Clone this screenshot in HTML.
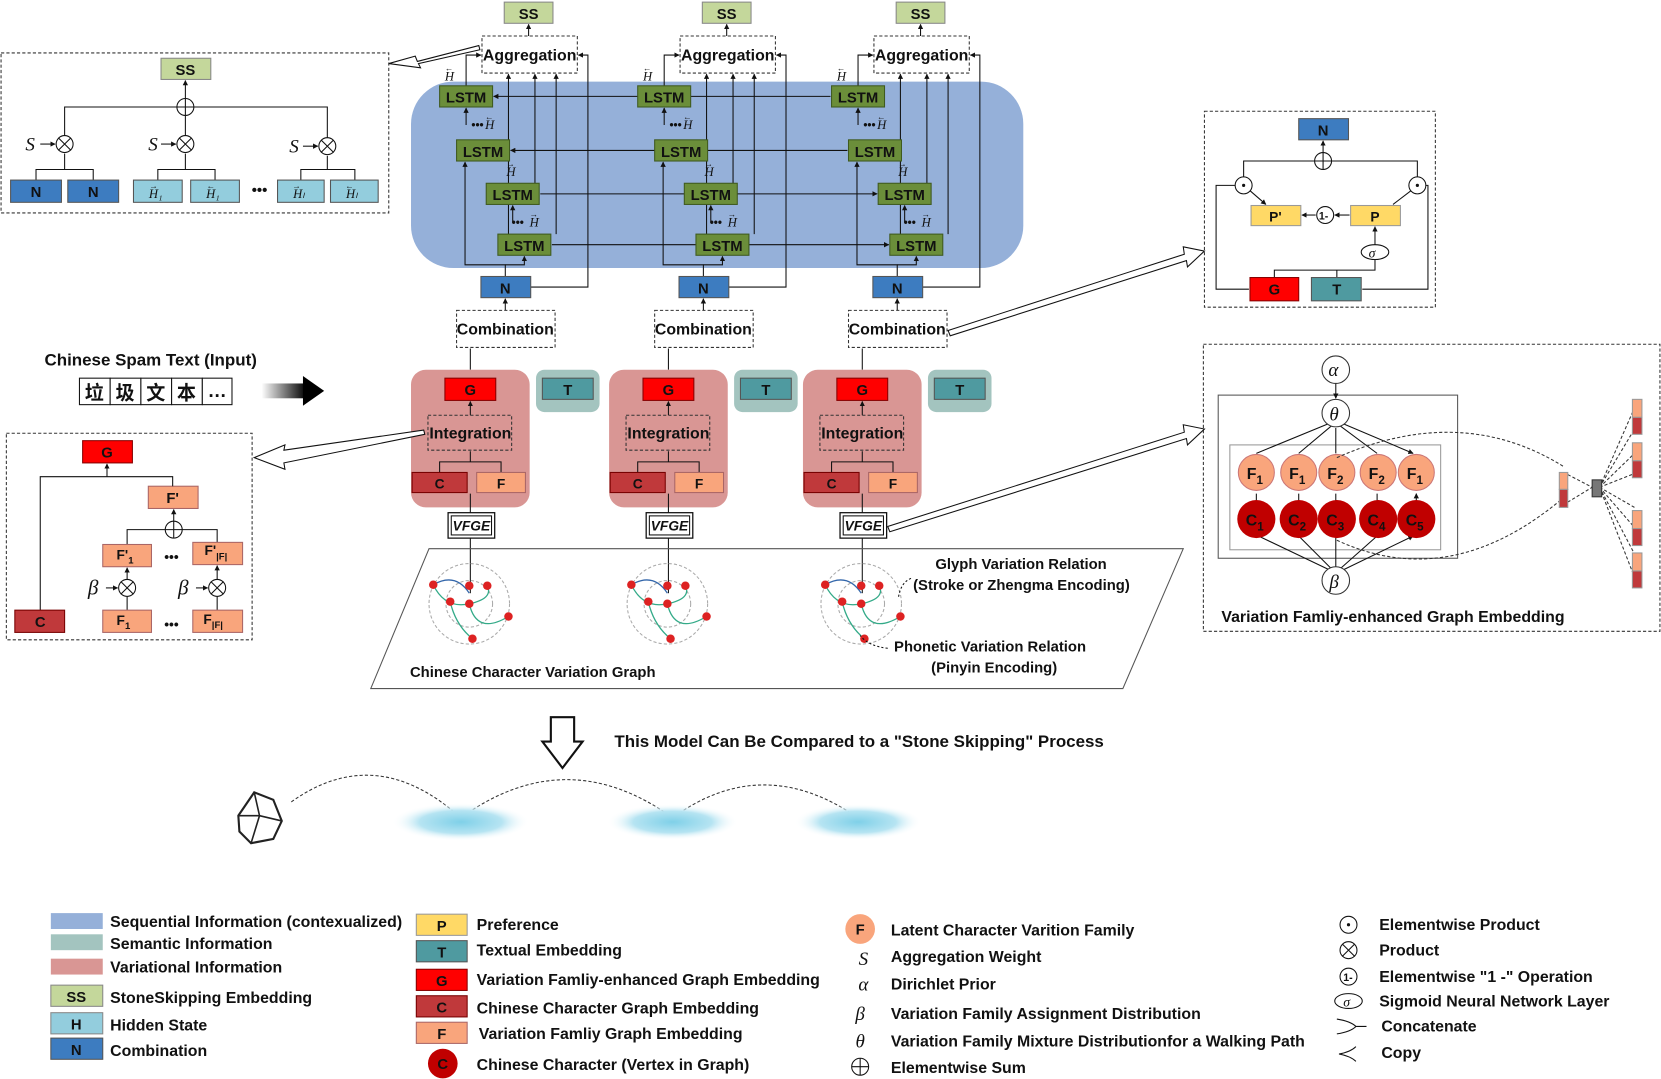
<!DOCTYPE html>
<html><head><meta charset="utf-8"><style>
html,body{margin:0;padding:0;background:#fff;width:1661px;height:1079px;overflow:hidden}
svg{display:block}
text{font-family:"Liberation Sans","Noto Sans CJK SC",sans-serif;font-weight:bold;fill:#111}
.s{font-family:"Liberation Serif",serif;font-style:italic;font-weight:normal}
</style></head><body>
<svg width="1661" height="1079" viewBox="0 0 1568 1018.6" preserveAspectRatio="none" xmlns="http://www.w3.org/2000/svg">
<defs>
<marker id="a" viewBox="0 0 10 10" refX="9" refY="5" markerWidth="5" markerHeight="5" orient="auto"><path d="M0,0L10,5L0,10z" fill="#111"/></marker>
<linearGradient id="gr" x1="0" x2="1"><stop offset="0" stop-color="#fff"/><stop offset="1" stop-color="#000"/></linearGradient>
<radialGradient id="rip"><stop offset="0" stop-color="#7fd0e8"/><stop offset="0.6" stop-color="#b6e4f2"/><stop offset="1" stop-color="#fff" stop-opacity="0"/></radialGradient>
<g id="col">
 <rect x="476" y="2" width="46" height="20" fill="#c4d79b" stroke="#888"/>
 <text x="499" y="18" font-size="14" text-anchor="middle">SS</text>
 <line x1="499" y1="34" x2="499" y2="23" stroke="#111" marker-end="url(#a)"/>
 <rect x="455" y="34" width="90" height="35" fill="#fff" stroke="#333" stroke-dasharray="3,2"/>
 <text x="500" y="57" font-size="15" text-anchor="middle">Aggregation</text>
 <path d="M440,81V52H454" fill="none" stroke="#111" marker-end="url(#a)"/>
 <text x="420" y="76" class="s" font-size="12">H</text><text x="420" y="67" font-size="8" font-weight="normal">←</text>
 <line x1="480" y1="241" x2="480" y2="70" stroke="#111" marker-end="url(#a)"/>
 <line x1="525" y1="221" x2="525" y2="70" stroke="#111" marker-end="url(#a)"/>
 <line x1="505" y1="173" x2="505" y2="70" stroke="#111" marker-end="url(#a)"/>
 <path d="M501,271H555V52H546" fill="none" stroke="#111" marker-end="url(#a)"/>
 <g fill="#6b8e3a" stroke="#3f5a1f">
 <rect x="415" y="81" width="50" height="20"/><rect x="431" y="132" width="50" height="20"/>
 <rect x="459" y="173" width="50" height="20"/><rect x="470" y="221" width="50" height="20"/></g>
 <g font-size="14" text-anchor="middle"><text x="440" y="97">LSTM</text><text x="456" y="148">LSTM</text><text x="484" y="189">LSTM</text><text x="495" y="237">LSTM</text></g>
 <line x1="440" y1="118" x2="440" y2="102" stroke="#111" marker-end="url(#a)"/>
 <line x1="484" y1="210" x2="484" y2="194" stroke="#111" marker-end="url(#a)"/>
 <text x="445" y="122" font-size="11">•••</text><text x="458" y="122" class="s" font-size="12">H</text><text x="458" y="113" font-size="8" font-weight="normal">←</text>
 <text x="483" y="214" font-size="11">•••</text><text x="500" y="214" class="s" font-size="12">H</text><text x="500" y="205" font-size="8" font-weight="normal">→</text>
 <text x="478" y="166" class="s" font-size="12">H</text><text x="478" y="157" font-size="8" font-weight="normal">→</text>
 <path d="M477,261V250H439V153" fill="none" stroke="#111" marker-end="url(#a)"/>
 <path d="M477,250H495V242" fill="none" stroke="#111" marker-end="url(#a)"/>
 <rect x="454" y="261" width="47" height="20" fill="#3d7cc0" stroke="#555"/>
 <text x="477" y="277" font-size="14" text-anchor="middle">N</text>
 <line x1="477" y1="293" x2="477" y2="282" stroke="#111" marker-end="url(#a)"/>
 <rect x="431" y="293" width="93" height="35" fill="#fff" stroke="#333" stroke-dasharray="3,2"/>
 <text x="477" y="316" font-size="15" text-anchor="middle">Combination</text>
 <line x1="444" y1="349" x2="444" y2="329" stroke="#111"/>
 <rect x="388" y="349" width="112" height="130" rx="14" fill="#d99694"/>
 <rect x="506" y="349" width="60" height="40" rx="8" fill="#a3c4bf"/>
 <rect x="420" y="357" width="48" height="21" fill="#f00" stroke="#800"/>
 <text x="444" y="373" font-size="14" text-anchor="middle">G</text>
 <rect x="512" y="357" width="48" height="20" fill="#4f9aa0" stroke="#555"/>
 <text x="536" y="373" font-size="14" text-anchor="middle">T</text>
 <line x1="444" y1="392" x2="444" y2="379" stroke="#111" marker-end="url(#a)"/>
 <rect x="404" y="392" width="79" height="33" fill="none" stroke="#333" stroke-dasharray="3,2"/>
 <text x="444" y="414" font-size="15" text-anchor="middle">Integration</text>
 <path d="M444,426V436H415V446M444,436H473V446" fill="none" stroke="#111"/>
 <rect x="389" y="446" width="52" height="19" fill="#c0393b" stroke="#700"/>
 <text x="415" y="461" font-size="13" text-anchor="middle">C</text>
 <rect x="450" y="446" width="46" height="19" fill="#f9a57c" stroke="#a66"/>
 <text x="473" y="461" font-size="13" text-anchor="middle">F</text>
 <line x1="444" y1="484" x2="444" y2="466" stroke="#111"/>
 <rect x="423" y="484" width="44" height="24" fill="#fff" stroke="#111" stroke-width="1.2"/>
 <rect x="426" y="487" width="38" height="18" fill="none" stroke="#111"/>
 <text x="445" y="501" font-size="13" text-anchor="middle" font-style="italic">VFGE</text>
 <line x1="444" y1="508" x2="444" y2="560" stroke="#111"/>
 <circle cx="443" cy="570" r="38" fill="none" stroke="#aaa" stroke-dasharray="3,2"/>
 <circle cx="443" cy="570" r="22" fill="none" stroke="#aaa" stroke-dasharray="3,2"/>
 <path d="M409,552Q420,575 443,570T460,553M443,570Q450,600 480,582M425,568Q430,590 446,603" fill="none" stroke="#3a8" stroke-width="1.2"/>
 <path d="M409,552Q430,540 443,560" fill="none" stroke="#36a" stroke-width="1.2"/>
 <g fill="#d22"><circle cx="409" cy="552" r="4"/><circle cx="443" cy="553" r="4"/><circle cx="460" cy="553" r="4"/><circle cx="425" cy="568" r="4"/><circle cx="443" cy="570" r="4"/><circle cx="480" cy="582" r="4"/><circle cx="446" cy="603" r="4"/></g>
</g>
</defs>
<rect x="388" y="77" width="578" height="176" rx="40" fill="#95b0d9"/>
<g stroke="#111" fill="none">
<line x1="784" y1="91" x2="466" y2="91" marker-end="url(#a)"/>
<line x1="800" y1="142" x2="482" y2="142" marker-end="url(#a)"/>
<line x1="510" y1="183" x2="828" y2="183" marker-end="url(#a)"/>
<line x1="521" y1="231" x2="839" y2="231" marker-end="url(#a)"/>
</g>
<use href="#col"/>
<use href="#col" x="187"/>
<use href="#col" x="370"/>
<text x="42" y="345" font-size="16">Chinese Spam Text (Input)</text>
<g stroke="#111" fill="#fff"><rect x="75" y="357" width="29" height="25"/><rect x="104" y="357" width="29" height="25"/><rect x="133" y="357" width="29" height="25"/><rect x="162" y="357" width="29" height="25"/><rect x="191" y="357" width="28" height="25"/></g>
<g font-size="18" font-weight="normal" text-anchor="middle" style="font-family:'Noto Serif CJK SC',serif"><text x="89" y="377">垃</text><text x="118" y="377">圾</text><text x="147" y="377">文</text><text x="176" y="377">本</text><text x="205" y="375">…</text></g>
<rect x="247" y="362" width="42" height="14" fill="url(#gr)"/><polygon points="286,355 306,369 286,383" fill="#000"/>
<rect x="1" y="50" width="366" height="151" fill="#fff" stroke="#333" stroke-dasharray="3,2"/>
<rect x="152" y="55" width="47" height="20" fill="#c4d79b" stroke="#888"/><text x="175" y="71" font-size="14" text-anchor="middle">SS</text>
<g stroke="#111" fill="none"><line x1="175" y1="93" x2="175" y2="76" marker-end="url(#a)"/><circle cx="175" cy="101" r="8"/><path d="M167,101H183M175,93V109"/>
<path d="M61,128V101H167M183,101H309V130M175,109V128"/>
<circle cx="61" cy="136" r="8"/><circle cx="175" cy="136" r="8"/><circle cx="309" cy="138" r="8"/>
<path d="M55,130L67,142M67,130L55,142M169,130L181,142M181,130L169,142M303,132L315,144M315,132L303,144"/>
<path d="M34,170V160H88V170M61,160V145M149,170V160H203V170M175,160V145M284,170V160H335V170M309,160V147"/>
<line x1="38" y1="136" x2="52" y2="136" marker-end="url(#a)"/><line x1="152" y1="136" x2="166" y2="136" marker-end="url(#a)"/><line x1="286" y1="138" x2="300" y2="138" marker-end="url(#a)"/></g>
<g font-size="18"><text x="24" y="142" class="s">S</text><text x="140" y="142" class="s">S</text><text x="273" y="144" class="s">S</text></g>
<g stroke="#555"><rect x="10" y="170" width="48" height="21" fill="#3d7cc0"/><rect x="64" y="170" width="48" height="21" fill="#3d7cc0"/>
<rect x="126" y="170" width="46" height="21" fill="#93cddd"/><rect x="180" y="170" width="46" height="21" fill="#93cddd"/><rect x="262" y="170" width="44" height="21" fill="#93cddd"/><rect x="312" y="170" width="45" height="21" fill="#93cddd"/></g>
<g font-size="14" text-anchor="middle"><text x="34" y="186">N</text><text x="88" y="186">N</text><text x="245" y="184">•••</text></g>
<g font-size="12" text-anchor="middle"><text class="s" x="147" y="187">H₁</text><text class="s" x="201" y="187">H₁</text><text class="s" x="282" y="187">Hₗ</text><text class="s" x="332" y="187">Hₗ</text></g>
<g font-size="8" font-weight="normal" text-anchor="middle"><text x="145" y="178">→</text><text x="199" y="178">←</text><text x="280" y="178">→</text><text x="330" y="178">←</text></g>
<polygon points="453,47 395,60 397,64 367,60 392,53 394,58 452,43" fill="#fff" stroke="#111"/>
<rect x="1137" y="105" width="218" height="185" fill="#fff" stroke="#333" stroke-dasharray="3,2"/>
<rect x="1226" y="112" width="47" height="20" fill="#3d7cc0" stroke="#555"/><text x="1249" y="128" font-size="14" text-anchor="middle">N</text>
<g stroke="#111" fill="none"><line x1="1249" y1="144" x2="1249" y2="133" marker-end="url(#a)"/><circle cx="1249" cy="152" r="8"/><path d="M1241,152H1257M1249,144V160"/>
<path d="M1174,167V152H1241M1257,152H1338V167"/><circle cx="1174" cy="175" r="8"/><circle cx="1338" cy="175" r="8"/>
<path d="M1166,175H1148V273H1179M1346,175H1348V273H1286"/>
<line x1="1180" y1="180" x2="1195" y2="193" marker-end="url(#a)"/><line x1="1332" y1="180" x2="1315" y2="193"/>
<circle cx="1251" cy="203" r="8"/><line x1="1274" y1="203" x2="1260" y2="203" marker-end="url(#a)"/><line x1="1242" y1="203" x2="1229" y2="203" marker-end="url(#a)"/>
<ellipse cx="1298" cy="238" rx="13" ry="7"/><line x1="1298" y1="231" x2="1298" y2="214" marker-end="url(#a)"/><path d="M1298,245V255H1203V262M1262,255V262"/></g>
<text x="1292" y="243" class="s" font-size="13">σ</text><text x="1245" y="207" font-size="10" font-weight="normal">1-</text>
<circle cx="1174" cy="175" r="1.5" fill="#111"/><circle cx="1338" cy="175" r="1.5" fill="#111"/>
<rect x="1181" y="194" width="47" height="19" fill="#ffd966" stroke="#999"/><text x="1204" y="209" font-size="13" text-anchor="middle">P'</text>
<rect x="1275" y="194" width="47" height="19" fill="#ffd966" stroke="#999"/><text x="1298" y="209" font-size="13" text-anchor="middle">P</text>
<rect x="1180" y="262" width="46" height="22" fill="#f00" stroke="#800"/><text x="1203" y="278" font-size="14" text-anchor="middle">G</text>
<rect x="1238" y="262" width="47" height="22" fill="#4f9aa0" stroke="#555"/><text x="1262" y="278" font-size="14" text-anchor="middle">T</text>
<polygon points="895,312 1118,240 1117,233 1137,237 1121,252 1120,246 897,317" fill="#fff" stroke="#111"/>
<rect x="1136" y="325" width="431" height="271" fill="#fff" stroke="#333" stroke-dasharray="3,2"/>
<rect x="1150" y="373" width="226" height="154" fill="none" stroke="#555"/>
<rect x="1161" y="420" width="199" height="99" fill="none" stroke="#999"/>
<g stroke="#111" fill="none"><line x1="1261" y1="361" x2="1261" y2="376" marker-end="url(#a)"/>
<path d="M1254,400L1186,428M1257,402L1226,428M1261,404V428M1265,402L1300,428M1268,400L1334,428" marker-end="url(#a)"/>
<path d="M1255,538L1188,506M1257,537L1226,506M1261,535V506M1265,537L1300,506M1268,538L1334,506" marker-end="url(#a)"/>
<path d="M1186,474V466M1226,474V466M1261,474V466M1300,474V466M1337,474V466" marker-end="url(#a)"/></g>
<circle cx="1261" cy="349" r="13" fill="#fff" stroke="#333"/><text x="1254" y="355" class="s" font-size="18">α</text>
<circle cx="1261" cy="390" r="13" fill="#fff" stroke="#333"/><text x="1255" y="397" class="s" font-size="18">θ</text>
<circle cx="1261" cy="548" r="13" fill="#fff" stroke="#333"/><text x="1255" y="555" class="s" font-size="18">β</text>
<g fill="#f9a57c" stroke="#c77"><circle cx="1186" cy="446" r="17"/><circle cx="1226" cy="446" r="17"/><circle cx="1262" cy="446" r="17"/><circle cx="1301" cy="446" r="17"/><circle cx="1337" cy="446" r="17"/></g>
<g fill="#c00000"><circle cx="1186" cy="490" r="18"/><circle cx="1226" cy="490" r="18"/><circle cx="1262" cy="490" r="18"/><circle cx="1301" cy="490" r="18"/><circle cx="1337" cy="490" r="18"/></g>
<g font-size="15"><text x="1177" y="452">F<tspan font-size="11" dy="5">1</tspan></text><text x="1217" y="452">F<tspan font-size="11" dy="5">1</tspan></text><text x="1253" y="452">F<tspan font-size="11" dy="5">2</tspan></text><text x="1292" y="452">F<tspan font-size="11" dy="5">2</tspan></text><text x="1328" y="452">F<tspan font-size="11" dy="5">1</tspan></text>
<text x="1176" y="496">C<tspan font-size="11" dy="5">1</tspan></text><text x="1216" y="496">C<tspan font-size="11" dy="5">2</tspan></text><text x="1252" y="496">C<tspan font-size="11" dy="5">3</tspan></text><text x="1291" y="496">C<tspan font-size="11" dy="5">4</tspan></text><text x="1327" y="496">C<tspan font-size="11" dy="5">5</tspan></text></g>
<g stroke="#333" fill="none" stroke-dasharray="3,2"><path d="M1262,432Q1380,380 1477,441M1262,510Q1370,560 1477,469"/>
<path d="M1480,448L1503,460L1480,474M1510,460L1543,385M1510,460L1543,428M1510,460L1543,479M1510,460L1543,523M1510,460L1543,405M1510,460L1543,447M1510,460L1543,498M1510,460L1543,545"/></g>
<rect x="1472" y="446" width="8" height="16" fill="#f9a57c" stroke="#999"/><rect x="1472" y="462" width="8" height="17" fill="#c0393b" stroke="#999"/>
<rect x="1503" y="453" width="9" height="16" fill="#777" stroke="#333"/>
<g stroke="#999"><rect x="1541" y="377" width="9" height="17" fill="#f9a57c"/><rect x="1541" y="394" width="9" height="16" fill="#c0393b"/>
<rect x="1541" y="418" width="9" height="17" fill="#f9a57c"/><rect x="1541" y="435" width="9" height="16" fill="#c0393b"/>
<rect x="1541" y="482" width="9" height="17" fill="#f9a57c"/><rect x="1541" y="499" width="9" height="16" fill="#c0393b"/>
<rect x="1541" y="522" width="9" height="17" fill="#f9a57c"/><rect x="1541" y="539" width="9" height="16" fill="#c0393b"/></g>
<text x="1153" y="587" font-size="15">Variation Famliy-enhanced Graph Embedding</text>
<polygon points="838,497 1118,408 1117,401 1137,405 1121,420 1120,414 840,502" fill="#fff" stroke="#111"/>
<rect x="6" y="409" width="232" height="195" fill="#fff" stroke="#333" stroke-dasharray="3,2"/>
<rect x="78" y="416" width="47" height="21" fill="#f00" stroke="#800"/><text x="101" y="432" font-size="14" text-anchor="middle">G</text>
<rect x="140" y="459" width="47" height="21" fill="#f9a57c" stroke="#a66"/><text x="163" y="475" font-size="14" text-anchor="middle">F'</text>
<g stroke="#111" fill="none"><path d="M38,576V450H101" /><line x1="101" y1="450" x2="101" y2="438" marker-end="url(#a)"/><path d="M101,450H163V459"/>
<line x1="164" y1="492" x2="164" y2="481" marker-end="url(#a)"/><circle cx="164" cy="500" r="8"/><path d="M156,500H172M164,492V508M120,514V500H156M172,500H205V512"/>
<line x1="120" y1="547" x2="120" y2="536" marker-end="url(#a)"/><line x1="205" y1="547" x2="205" y2="534" marker-end="url(#a)"/>
<circle cx="120" cy="555" r="8"/><circle cx="205" cy="555" r="8"/><path d="M114,549L126,561M126,549L114,561M199,549L211,561M211,549L199,561"/>
<line x1="120" y1="576" x2="120" y2="563"/><line x1="205" y1="576" x2="205" y2="563"/>
<line x1="100" y1="555" x2="111" y2="555" marker-end="url(#a)"/><line x1="185" y1="555" x2="196" y2="555" marker-end="url(#a)"/></g>
<text x="83" y="561" class="s" font-size="20">β</text><text x="168" y="561" class="s" font-size="20">β</text>
<g fill="#f9a57c" stroke="#a66"><rect x="97" y="514" width="46" height="21"/><rect x="182" y="512" width="47" height="21"/><rect x="97" y="576" width="46" height="21"/><rect x="182" y="576" width="47" height="21"/></g>
<rect x="14" y="576" width="47" height="21" fill="#c0393b" stroke="#700"/><text x="38" y="592" font-size="14" text-anchor="middle">C</text>
<g font-size="13"><text x="110" y="528">F'<tspan font-size="9" dy="4">1</tspan></text><text x="193" y="524">F'<tspan font-size="9" dy="4">|F|</tspan></text><text x="110" y="590">F<tspan font-size="9" dy="4">1</tspan></text><text x="192" y="589">F<tspan font-size="9" dy="4">|F|</tspan></text>
<text x="155" y="530">•••</text><text x="155" y="594">•••</text></g>
<polygon points="400,406 268,425 269,420 240,432 269,443 268,437 401,410" fill="#fff" stroke="#111"/>
<polygon points="405,518 1117,518 1060,650 350,650" fill="none" stroke="#555"/>
<text x="387" y="639" font-size="14">Chinese Character Variation Graph</text>
<text x="883" y="537" font-size="14">Glyph Variation Relation</text>
<text x="862" y="557" font-size="14">(Stroke or Zhengma Encoding)</text>
<text x="844" y="615" font-size="14">Phonetic Variation Relation</text>
<text x="879" y="635" font-size="14">(Pinyin Encoding)</text>
<path d="M860,546Q850,550 848,565M838,612Q820,610 812,600" fill="none" stroke="#111" stroke-dasharray="2,2"/>
<polygon points="520,677 542,677 542,700 550,700 531,725 512,700 520,700" fill="#fff" stroke="#111" stroke-width="2"/>
<text x="580" y="705" font-size="16">This Model Can Be Compared to a "Stone Skipping" Process</text>
<polygon points="225,770 240,748 258,755 266,775 258,792 237,796 226,785" fill="#fff" stroke="#222" stroke-width="2"/>
<path d="M240,748L245,770L266,775M245,770L237,796M225,770L245,770" fill="none" stroke="#222" stroke-width="1.5"/>
<path d="M275,757Q355,700 435,772Q535,700 635,772Q720,710 810,772" fill="none" stroke="#333" stroke-dasharray="3,2"/>
<ellipse cx="435" cy="776" rx="65" ry="18" fill="url(#rip)"/><ellipse cx="635" cy="776" rx="62" ry="17" fill="url(#rip)"/><ellipse cx="810" cy="776" rx="60" ry="17" fill="url(#rip)"/>
<rect x="48" y="862" width="49" height="15" fill="#95b0d9"/><rect x="48" y="882" width="49" height="15" fill="#a3c4bf"/><rect x="48" y="905" width="49" height="15" fill="#d99694"/>
<rect x="48" y="930" width="49" height="20" fill="#c4d79b" stroke="#888"/><rect x="48" y="956" width="49" height="20" fill="#93cddd" stroke="#888"/><rect x="48" y="980" width="49" height="20" fill="#3d7cc0" stroke="#555"/>
<g font-size="14" text-anchor="middle"><text x="72" y="946">SS</text><text x="72" y="972">H</text><text x="72" y="996">N</text></g>
<g font-size="15"><text x="104" y="875">Sequential Information (contexualized)</text><text x="104" y="896">Semantic Information</text><text x="104" y="918">Variational Information</text><text x="104" y="947">StoneSkipping Embedding</text><text x="104" y="973">Hidden State</text><text x="104" y="997">Combination</text></g>
<rect x="393" y="863" width="48" height="20" fill="#ffd966" stroke="#999"/><rect x="393" y="888" width="48" height="20" fill="#4f9aa0" stroke="#555"/><rect x="393" y="915" width="48" height="20" fill="#f00" stroke="#800"/><rect x="393" y="940" width="48" height="20" fill="#c0393b" stroke="#700"/><rect x="393" y="965" width="48" height="20" fill="#f9a57c" stroke="#a66"/>
<circle cx="418" cy="1004" r="14" fill="#c00000"/>
<g font-size="14" text-anchor="middle"><text x="417" y="879">P</text><text x="417" y="904">T</text><text x="417" y="931">G</text><text x="417" y="956">C</text><text x="417" y="981">F</text><text x="418" y="1009">C</text></g>
<g font-size="15"><text x="450" y="878">Preference</text><text x="450" y="902">Textual Embedding</text><text x="450" y="930">Variation Famliy-enhanced Graph Embedding</text><text x="450" y="957">Chinese Character Graph Embedding</text><text x="452" y="981">Variation Famliy Graph Embedding</text><text x="450" y="1010">Chinese Character (Vertex in Graph)</text></g>
<circle cx="812" cy="877" r="14" fill="#f9a57c"/><text x="812" y="882" font-size="14" text-anchor="middle">F</text>
<g font-size="18" text-anchor="middle"><text x="815" y="911" class="s">S</text><text x="815" y="935" class="s">α</text><text x="812" y="963" class="s">β</text><text x="812" y="989" class="s">θ</text></g>
<g stroke="#111" fill="none"><circle cx="812" cy="1007" r="8"/><path d="M804,1007H820M812,999V1015"/></g>
<g font-size="15"><text x="841" y="883">Latent Character Varition Family</text><text x="841" y="908">Aggregation Weight</text><text x="841" y="934">Dirichlet Prior</text><text x="841" y="962">Variation Family Assignment Distribution</text><text x="841" y="988">Variation Family Mixture Distributionfor a Walking Path</text><text x="841" y="1013">Elementwise Sum</text></g>
<g stroke="#111" fill="none"><circle cx="1273" cy="873" r="8"/><circle cx="1273" cy="897" r="8"/><path d="M1267,891L1279,903M1279,891L1267,903"/><circle cx="1273" cy="922" r="8"/><ellipse cx="1273" cy="945" rx="13" ry="7"/>
<path d="M1262,962Q1275,964 1280,969Q1275,974 1262,976M1280,969H1290" /><path d="M1264,995Q1275,993 1280,988M1264,995Q1275,997 1280,1002"/></g>
<circle cx="1273" cy="873" r="1.5" fill="#111"/><text x="1268" y="926" font-size="10" font-weight="normal">1-</text><text x="1268" y="950" class="s" font-size="13">σ</text>
<g font-size="15"><text x="1302" y="878">Elementwise Product</text><text x="1302" y="902">Product</text><text x="1302" y="927">Elementwise "1 -" Operation</text><text x="1302" y="950">Sigmoid Neural Network Layer</text><text x="1304" y="974">Concatenate</text><text x="1304" y="999">Copy</text></g>
</svg>
</body></html>
